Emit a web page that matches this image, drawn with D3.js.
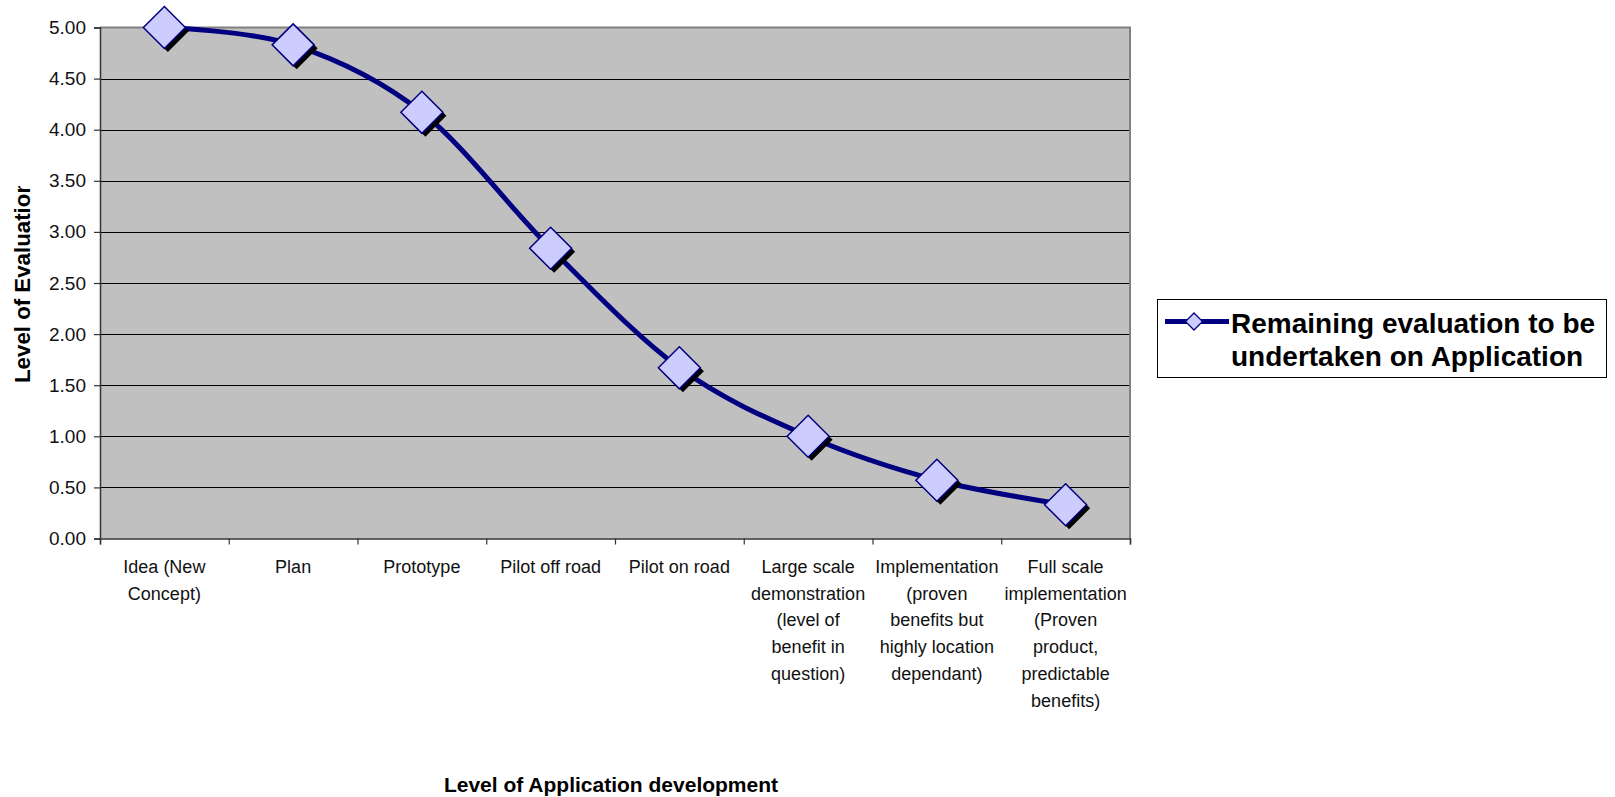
<!DOCTYPE html>
<html>
<head>
<meta charset="utf-8">
<script src="https://cdn.jsdelivr.net/npm/d3@7"></script>
<style>
  html, body { margin: 0; padding: 0; background: #ffffff; }
  svg { display: block; font-family: "Liberation Sans", Arial, sans-serif; }
</style>
</head>
<body>
<svg id="chart" width="1615" height="797"></svg>
<script>
// ---- data ----
const categories = [
  "Idea (New\nConcept)",
  "Plan",
  "Prototype",
  "Pilot off road",
  "Pilot on road",
  "Large scale\ndemonstration\n(level of\nbenefit in\nquestion)",
  "Implementation\n(proven\nbenefits but\nhighly location\ndependant)",
  "Full scale\nimplementation\n(Proven\nproduct,\npredictable\nbenefits)"
];
const remainingEvaluation = [5.00, 4.83, 4.17, 2.84, 1.67, 1.00, 0.57, 0.33];
const yTicks = [0, 0.5, 1, 1.5, 2, 2.5, 3, 3.5, 4, 4.5, 5];
const seriesName = ["Remaining evaluation to be", "undertaken on Application"];
const yTitle = "Level of Evaluation";
const xTitle = "Level of Application development";

// ---- layout ----
const svg = d3.select("#chart");
const L = 100, R = 1130, T = 27.5, B = 538.5;
const navy = "#000080", markerFill = "#CCCCFF";

const x = d3.scaleBand().domain(d3.range(categories.length)).range([L, R]).paddingInner(0).paddingOuter(0);
const y = d3.scaleLinear().domain([0, 5]).range([B, T]);

// plot background
svg.append("rect").attr("x", L).attr("y", T).attr("width", R - L).attr("height", B - T)
  .attr("fill", "#C0C0C0");

// gridlines
svg.append("g").selectAll("line").data(yTicks.filter(d => d > 0 && d < 5)).join("line")
  .attr("x1", L).attr("x2", R)
  .attr("y1", d => Math.round(y(d)) + 0.5).attr("y2", d => Math.round(y(d)) + 0.5)
  .attr("stroke", "#000").attr("stroke-width", 1);

// plot border (top/right gray)
svg.append("path")
  .attr("d", `M${L},${T} H${R} V${B}`)
  .attr("fill", "none").attr("stroke", "#808080").attr("stroke-width", 2);

// y axis
const yAxis = d3.axisLeft(y).tickValues(yTicks).tickSize(6).tickPadding(8)
  .tickFormat(d3.format(".2f"));
const gy = svg.append("g").attr("transform", `translate(${L},0)`).call(yAxis);
gy.select(".domain").attr("stroke", "#333").attr("stroke-width", 1.5);
gy.selectAll(".tick line").attr("stroke", "#333").attr("stroke-width", 1.2);
gy.selectAll(".tick text").attr("font-size", 19).attr("fill", "#111")
  .attr("font-family", "'Liberation Sans', Arial, sans-serif");

// x axis (ticks at band boundaries)
const xb = d3.scaleLinear().domain([0, categories.length]).range([L, R]);
const gx = svg.append("g").attr("transform", `translate(0,${B})`)
  .call(d3.axisBottom(xb).tickValues(d3.range(categories.length + 1))
    .tickSize(6).tickFormat(""));
gx.select(".domain").attr("stroke", "#333").attr("stroke-width", 1.5);
gx.selectAll(".tick line").attr("stroke", "#333").attr("stroke-width", 1.2);

// category labels
const lab = svg.append("g").attr("font-size", 18).attr("fill", "#111").attr("text-anchor", "middle");
categories.forEach((c, i) => {
  const cx = x(i) + x.bandwidth() / 2;
  const t = lab.append("text").attr("x", cx).attr("y", 573);
  c.split("\n").forEach((line, j) => {
    t.append("tspan").attr("x", cx).attr("dy", j === 0 ? 0 : 26.7).text(line);
  });
});

// smoothed line
const line = d3.line()
  .x((d, i) => x(i) + x.bandwidth() / 2)
  .y(d => y(d))
  .curve(d3.curveCardinal.tension(0));
svg.append("path").datum(remainingEvaluation)
  .attr("d", line).attr("fill", "none").attr("stroke", navy).attr("stroke-width", 5)
  .attr("stroke-linejoin", "round");

// markers
const hd = 21;
const diamond = (cx, cy, h) => `M${cx},${cy - h} L${cx + h},${cy} L${cx},${cy + h} L${cx - h},${cy} Z`;
const mk = svg.append("g");
remainingEvaluation.forEach((v, i) => {
  const cx = x(i) + x.bandwidth() / 2, cy = y(v);
  mk.append("path").attr("d", diamond(cx + 3.5, cy + 3.5, hd)).attr("fill", "#000");
  mk.append("path").attr("d", diamond(cx, cy, hd)).attr("fill", markerFill)
    .attr("stroke", navy).attr("stroke-width", 1.5);
});

// y title (clipped at top like the reference)
svg.append("clipPath").attr("id", "ytclip")
  .append("rect").attr("x", 0).attr("y", 186).attr("width", 60).attr("height", 300);
svg.append("g").attr("clip-path", "url(#ytclip)")
  .append("text")
  .attr("transform", "translate(30,383) rotate(-90)")
  .attr("font-size", 21.5).attr("font-weight", "bold").attr("fill", "#000")
  .attr("textLength", 203).attr("lengthAdjust", "spacingAndGlyphs")
  .attr("text-anchor", "start").text(yTitle);

// x title
svg.append("text").attr("x", 611).attr("y", 792)
  .attr("font-size", 21).attr("font-weight", "bold").attr("fill", "#000")
  .attr("text-anchor", "middle").text(xTitle);

// legend
const lg = svg.append("g");
lg.append("rect").attr("x", 1157.5).attr("y", 299.5).attr("width", 449).attr("height", 78)
  .attr("fill", "#fff").attr("stroke", "#000").attr("stroke-width", 1);
lg.append("line").attr("x1", 1165).attr("x2", 1229).attr("y1", 321.5).attr("y2", 321.5)
  .attr("stroke", navy).attr("stroke-width", 5);
lg.append("path").attr("d", diamond(1194, 321.5, 8.5)).attr("fill", markerFill)
  .attr("stroke", navy).attr("stroke-width", 1.3);
const lt = lg.append("text").attr("font-size", 28).attr("font-weight", "bold").attr("fill", "#000");
seriesName.forEach((s, j) => {
  lt.append("tspan").attr("x", 1231).attr("y", 333 + j * 33).text(s);
});
</script>
</body>
</html>
